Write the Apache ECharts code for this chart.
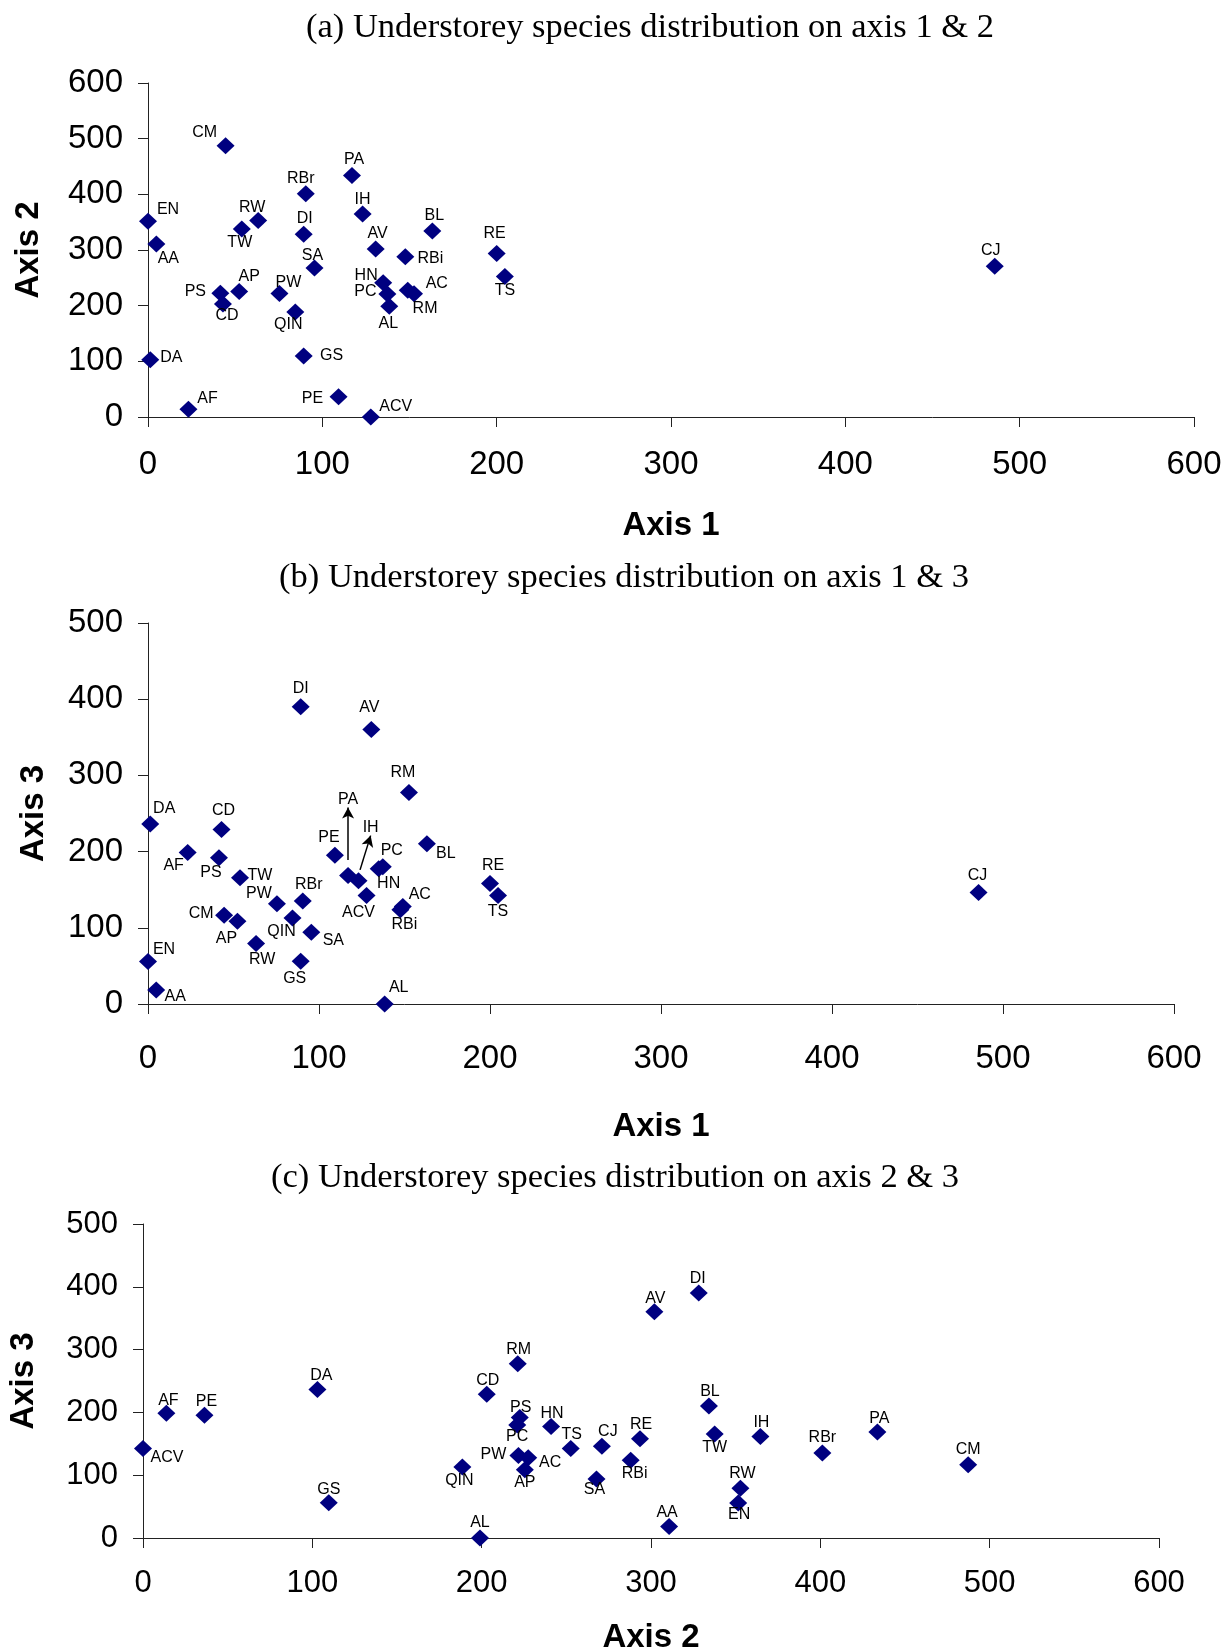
<!DOCTYPE html>
<html>
<head>
<meta charset="utf-8">
<title>Understorey species distribution</title>
<script src="https://cdn.jsdelivr.net/npm/echarts@6/dist/echarts.min.js"></script>
<style>
  html, body { margin: 0; padding: 0; background: #fff; }
  #chart { width: 1231px; height: 1649px; }
</style>
</head>
<body>
<div id="chart"></div>
<script>
// Species codes and their ordination scores on axes 1-3
const species = ['AA','AC','ACV','AF','AL','AP','AV','BL','CD','CJ','CM','DA','DI','EN','GS','HN','IH','PA','PC','PE','PS','PW','QIN','RBi','RBr','RE','RM','RW','SA','TS','TW'];
const axis1 = [4.8,149,127.8,23.2,138.4,52.3,130.6,163.1,43,485.7,44.5,1.3,89.3,0,89.3,134.9,123.1,117,137.3,109.3,41.5,75.4,84.5,147.6,90.5,200,152.6,63.2,95.5,204.7,53.8];
const axis2 = [310.7,227.5,0,13.8,199,225.5,302,334.2,203,271,487.3,103,328.2,351.5,109.7,241,364.6,433.7,221,36.3,222.5,221.7,188.6,288,401.2,293.5,221.3,352.8,267.8,252.6,337.6];
const axis3 = [18.5,127.8,142.5,198.7,0,108.5,360.3,210.3,229,146.2,116.5,236.3,390.2,55.7,56.2,177.6,161.8,168.6,180.1,195.3,192,131.5,112.9,123.7,135.3,158,277.6,79.4,94.1,142.5,165.7];

// Axis ranges (value ticks every 100)
const axisMax12 = [600, 600];
const axisMax13 = [600, 500];
const axisMax23 = [600, 500];
const tickStep = 100;

// Arrow callouts in panel (b): [name, from [x, y], to [x, y]] in data units
const arrowsB = [
  ['PA', [117, 189], [117, 258]],
  ['IH', [124, 176], [130.2, 221]]
];

// Label placement (pixel offset of label centre from marker centre)
const offA = {CM:[-21,-13],PA:[2,-16],RBr:[-5,-15],IH:[0,-14],EN:[20,-12],RW:[-6,-13],TW:[-2,14],DI:[1,-16],BL:[2,-15],AA:[12,15],AV:[2,-15],RBi:[25,2],RE:[-2,-20],TS:[0,14],SA:[-2,-12],HN:[-17,-7],PC:[-22,-2],AC:[29,-7],RM:[11,15],AL:[-1,17],PS:[-25,-2],CD:[4,12],AP:[10,-15],PW:[9,-11],QIN:[-7,13],DA:[21,-2],GS:[28,0],AF:[19,-11],PE:[-26,2],ACV:[25,-10],CJ:[-4,-16]};
const offB = {DI:[0,-18],AV:[-2,-22],RM:[-6,-20],DA:[14,-15],CD:[2,-19],BL:[19,10],AF:[-14,13],PE:[-6,-18],PS:[-8,15],PC:[9,-16],HN:[10,15],TW:[20,-2],ACV:[-8,17],RE:[3,-18],TS:[0,16],RBr:[6,-16],PW:[-18,-10],AC:[17,-12],RBi:[4,15],CM:[-23,-2],QIN:[-11,14],AP:[-11,17],SA:[22,8],RW:[6,16],GS:[-6,17],EN:[16,-12],AA:[19,7],AL:[14,-16],CJ:[-1,-17]};
const offC = {RM:[1,-14],DA:[4,-14],CD:[1,-14],AF:[2,-13],PE:[2,-14],PS:[1,-10],PC:[0,12],HN:[1,-13],ACV:[24,9],TS:[1,-14],CJ:[6,-15],PW:[-25,-1],AC:[22,5],AP:[0,13],QIN:[-3,13],SA:[-2,11],GS:[0,-13],AL:[0,-15],DI:[-1,-14],AV:[1,-13],BL:[1,-14],RE:[1,-14],TW:[0,14],IH:[1,-14],RBr:[0,-15],PA:[2,-14],CM:[0,-15],RBi:[4,13],RW:[2,-15],EN:[1,12],AA:[-2,-14]};

const panels = [
  { title: '(a) Understorey species distribution on axis 1 & 2', xs: axis1, ys: axis2, max: axisMax12,
    xName: 'Axis 1', yName: 'Axis 2', offsets: offA, hide: [],
    grid: { left: 148, top: 83, width: 1046, height: 334 }, titleAt: [645, 5],
    xNameGap: 92, yNameGap: 103, tickSize: 33, tickMargin: 31 },
  { title: '(b) Understorey species distribution on axis 1 & 3', xs: axis1, ys: axis3, max: axisMax13,
    xName: 'Axis 1', yName: 'Axis 3', offsets: offB, hide: ['PA', 'IH'],
    grid: { left: 148, top: 623, width: 1026, height: 381 }, titleAt: [619, 555],
    xNameGap: 106, yNameGap: 98, tickSize: 33, tickMargin: 38 },
  { title: '(c) Understorey species distribution on axis 2 & 3', xs: axis2, ys: axis3, max: axisMax23,
    xName: 'Axis 2', yName: 'Axis 3', offsets: offC, hide: [],
    grid: { left: 143, top: 1224, width: 1016, height: 314 }, titleAt: [610, 1155],
    xNameGap: 83, yNameGap: 103, tickSize: 31, tickMargin: 30 }
];

const axisColor = '#222';
const markerColor = '#000080';

function valueAxis(p, idx, isX) {
  return {
    type: 'value',
    gridIndex: idx,
    min: 0,
    max: isX ? p.max[0] : p.max[1],
    interval: tickStep,
    name: isX ? p.xName : p.yName,
    nameLocation: 'middle',
    nameGap: isX ? p.xNameGap : p.yNameGap,
    nameRotate: isX ? 0 : 90,
    nameTextStyle: { fontFamily: 'Liberation Sans', fontWeight: 'bold', fontSize: 33, color: '#000' },
    axisLine: { show: true, onZero: false, lineStyle: { color: axisColor, width: 1 } },
    axisTick: { show: true, inside: false, length: 10, lineStyle: { color: axisColor, width: 1 } },
    axisLabel: { fontFamily: 'Liberation Sans', fontSize: p.tickSize, color: '#000', margin: isX ? p.tickMargin : 25 },
    splitLine: { show: false }
  };
}

const option = {
  backgroundColor: '#fff',
  animation: false,
  title: panels.map(p => ({
    text: p.title, left: p.titleAt[0], top: p.titleAt[1], textAlign: 'center',
    textStyle: { fontFamily: 'Liberation Serif', fontSize: 34.5, fontWeight: 'normal', color: '#000' }
  })),
  // fixed plot rectangles; the bottom axis title may run to the page edge
  grid: panels.map(p => Object.assign({ containLabel: false, outerBoundsMode: 'none' }, p.grid)),
  xAxis: panels.map((p, i) => valueAxis(p, i, true)),
  yAxis: panels.map((p, i) => valueAxis(p, i, false)),
  series: panels.map((p, i) => {
    const s = {
      type: 'scatter',
      xAxisIndex: i,
      yAxisIndex: i,
      clip: false,
      symbol: 'diamond',
      symbolSize: [18, 17],
      itemStyle: { color: markerColor, opacity: 1 },
      emphasis: { disabled: true },
      label: {
        show: true, position: 'inside', formatter: '{b}',
        fontFamily: 'Liberation Sans', fontSize: 16, color: '#000'
      },
      data: species.map((name, k) => ({
        name: name,
        value: [p.xs[k], p.ys[k]],
        label: p.hide.includes(name) ? { show: false } : { offset: p.offsets[name] || [0, -14] }
      }))
    };
    if (i === 1) {
      s.markLine = {
        silent: true,
        symbol: ['none', 'arrow'],
        symbolSize: [9, 11],
        lineStyle: { color: '#000', width: 1.5, type: 'solid', opacity: 1 },
        label: {
          show: true, position: 'end', distance: 0, formatter: '{b}',
          fontFamily: 'Liberation Sans', fontSize: 16, color: '#000'
        },
        emphasis: { disabled: true },
        data: arrowsB.map(a => [{ name: a[0], coord: a[1] }, { coord: a[2] }])
      };
    }
    return s;
  })
};

const chart = echarts.init(document.getElementById('chart'), null, { renderer: 'canvas' });
chart.setOption(option);
</script>
</body>
</html>
